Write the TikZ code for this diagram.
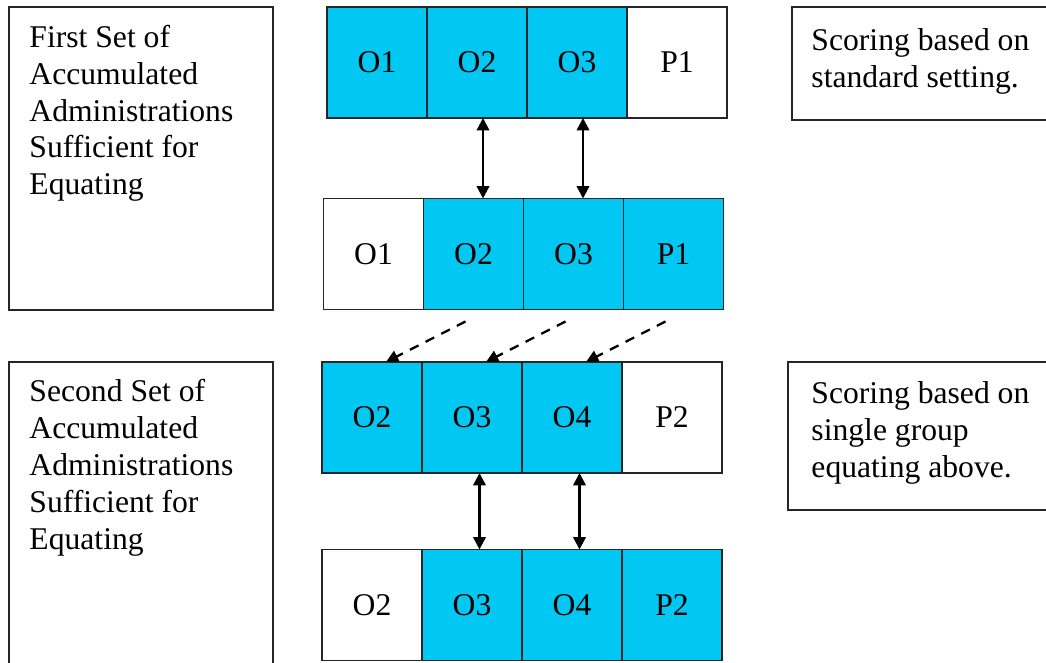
\documentclass[tikz,border=0pt]{standalone}
\usepackage{fontspec}
\setmainfont{Liberation Serif}
\usetikzlibrary{shapes,positioning,arrows,arrows.meta,calc}
\definecolor{cellfill}{HTML}{00C8F2}
\colorlet{framecolor}{black!85}

\begin{document}
\begin{tikzpicture}

    \tikzstyle{txt}=[font=\fontsize{18}{21}\selectfont]
    \tikzstyle{c}=[draw=framecolor, line width=1pt, rectangle, outer sep=0pt, minimum width=2cm, minimum height=2.22cm, txt]
    \tikzstyle{on}=[c, fill=cellfill]
    \tikzstyle{frame}=[draw=framecolor, line width=1pt, rectangle]
    \tikzstyle{note}=[txt, align=left, inner sep=0pt]
    \tikzstyle{link}=[line width=1.4pt, <->]
    \tikzstyle{carry}=[line width=1.3pt, ->, dash pattern=on 5.5pt off 4.5pt]

    \useasboundingbox (0,0) rectangle (20.92,-13.26);
    \clip (0,0) rectangle (20.92,-13.26);

    \begin{scope}[>={Triangle[width=7pt,length=7pt]}]

      % sets of accumulated administrations
      \node (set1) at (2.82,-3.17)[frame, minimum width=5.28cm, minimum height=6.06cm]{};
      \node (set1txt) [note, below right=0.37cm and 0.42cm of set1.north west]{First Set of\\Accumulated\\Administrations\\Sufficient for\\Equating};
      \node (set2) at (2.82,-10.62)[frame, minimum width=5.28cm, minimum height=6.76cm]{};
      \node (set2txt) [note, below right=0.36cm and 0.42cm of set2.north west]{Second Set of\\Accumulated\\Administrations\\Sufficient for\\Equating};

      % first set
      \node (rowA1) at (7.54,-1.25)[on]{O1};
      \node (rowA2) [right=0cm of rowA1, on]{O2};
      \node (rowA3) [right=0cm of rowA2, on]{O3};
      \node (rowA4) [right=0cm of rowA3, c]{P1};

      \node (rowB1) at (7.47,-5.08)[c]{O1};
      \node (rowB2) [right=0cm of rowB1, on]{O2};
      \node (rowB3) [right=0cm of rowB2, on]{O3};
      \node (rowB4) [right=0cm of rowB3, on]{P1};

      % second set
      \node (rowC1) at (7.44,-8.35)[on]{O2};
      \node (rowC2) [right=0cm of rowC1, on]{O3};
      \node (rowC3) [right=0cm of rowC2, on]{O4};
      \node (rowC4) [right=0cm of rowC3, c]{P2};

      \node (rowD1) at (7.44,-12.1)[c]{O2};
      \node (rowD2) [right=0cm of rowD1, on]{O3};
      \node (rowD3) [right=0cm of rowD2, on]{O4};
      \node (rowD4) [right=0cm of rowD3, on]{P2};

      % scoring notes
      \node (score1) at (18.92,-1.27)[frame, minimum width=6.16cm, minimum height=2.26cm]{};
      \node (score1txt) [note, below right=0.44cm and 0.4cm of score1.north west]{Scoring based on\\standard setting.};
      \node (score2) at (18.88,-8.72)[frame, minimum width=6.24cm, minimum height=2.96cm]{};
      \node (score2txt) [note, below right=0.4cm and 0.48cm of score2.north west]{Scoring based on\\single group\\equating above.};

      % links
      \draw[link] ([xshift=0.12cm]rowA2.south) -- ([xshift=0.12cm]rowA2.south |- rowB2.north);
      \draw[link] ([xshift=0.12cm]rowA3.south) -- ([xshift=0.12cm]rowA3.south |- rowB3.north);
      \draw[link] ([xshift=0.15cm]rowC2.south) -- ([xshift=0.15cm]rowC2.south |- rowD2.north);
      \draw[link] ([xshift=0.15cm]rowC3.south) -- ([xshift=0.15cm]rowC3.south |- rowD3.north);

      \draw[carry] ([shift={(-0.16,-0.24)}]rowB2.south) -- ([xshift=0.28cm]rowC1.north);
      \draw[carry] ([shift={(-0.16,-0.24)}]rowB3.south) -- ([xshift=0.28cm]rowC2.north);
      \draw[carry] ([shift={(-0.16,-0.24)}]rowB4.south) -- ([xshift=0.28cm]rowC3.north);

    \end{scope}
    \end{tikzpicture}
\end{document}
